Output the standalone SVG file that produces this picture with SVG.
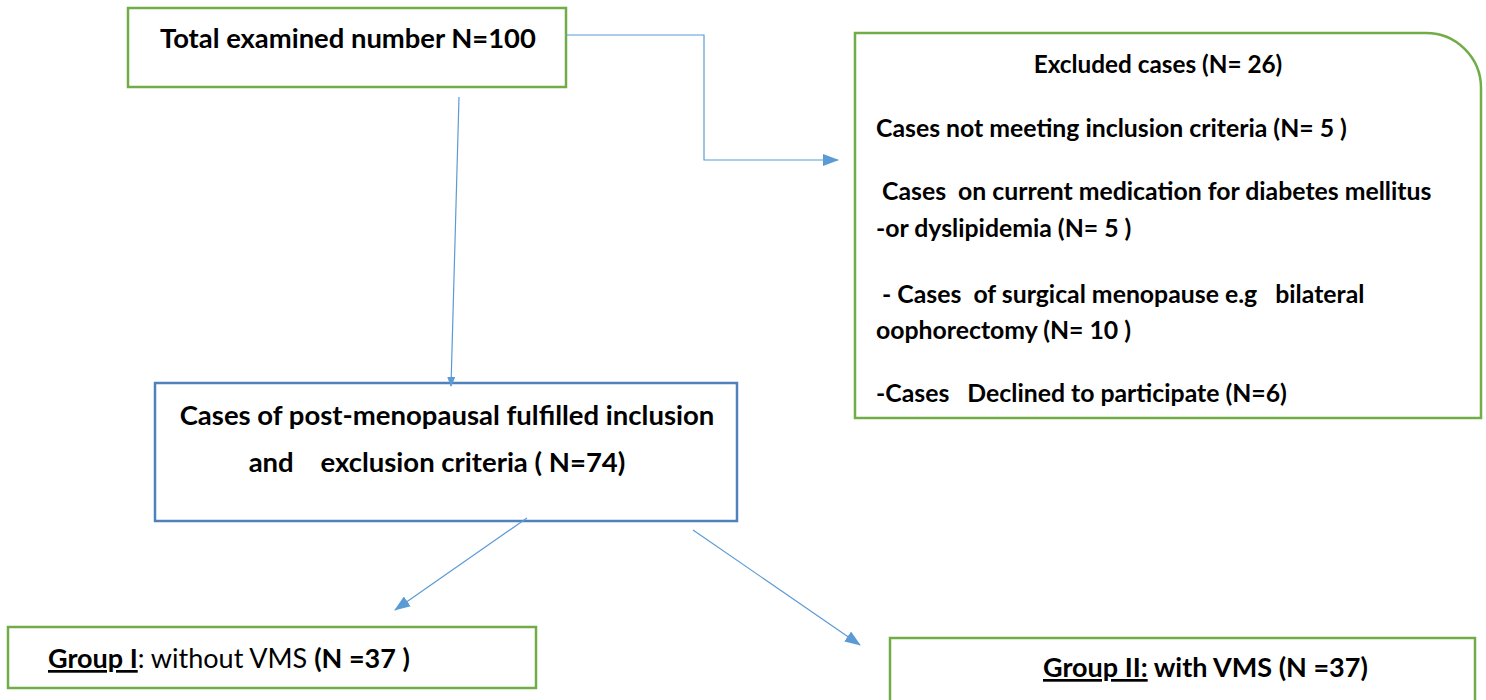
<svg xmlns="http://www.w3.org/2000/svg" width="1486" height="700" viewBox="0 0 1486 700">
<style>
text{font-family:Lato,"Open Sans","Liberation Sans",sans-serif;fill:#000;font-weight:bold}
.g{fill:#fff;stroke:#70AD47;stroke-width:2.5}
.b{fill:#fff;stroke:#4F81BD;stroke-width:2.5}
.c{fill:none;stroke:#5B9BD5;stroke-width:1.2}
.n{font-weight:normal}
.l{font-size:24.8px}
</style>
<defs>
<marker id="ah" markerWidth="10" markerHeight="8" refX="9" refY="4" orient="auto" markerUnits="userSpaceOnUse" viewBox="0 0 10 8">
<path d="M0,0 L10,4 L0,8 Z" fill="#5B9BD5"/>
</marker>
<marker id="ah2" markerWidth="16" markerHeight="12" refX="15" refY="6" orient="auto" markerUnits="userSpaceOnUse" viewBox="0 0 16 12">
<path d="M0,0 L16,6 L0,12 Z" fill="#5B9BD5"/>
</marker>
</defs>
<g id="n-total">
<rect class="g" x="128" y="8" width="438" height="79"/>
<text x="160" y="48" font-size="27.4">Total examined number N=100</text>
</g>
<g id="n-excluded">
<path class="g" d="M855,33 H1426 A55,55 0 0 1 1481,88 V418 H855 Z"/>
<text x="1158" y="73" font-size="24.3" text-anchor="middle">Excluded cases (N= 26)</text>
<text class="l" x="876" y="137">Cases not meeting inclusion criteria (N= 5 )</text>
<text class="l" x="876" y="200" xml:space="preserve"> Cases  on current medication for diabetes mellitus</text>
<text class="l" x="876" y="237">-or dyslipidemia (N= 5 )</text>
<text class="l" x="876" y="303" xml:space="preserve"> - Cases  of surgical menopause e.g   bilateral</text>
<text class="l" x="876" y="339">oophorectomy (N= 10 )</text>
<text class="l" x="876" y="402" xml:space="preserve">-Cases   Declined to participate (N=6)</text>
</g>
<g id="n-included">
<rect class="b" x="155" y="383" width="582" height="138"/>
<text x="447" y="425" font-size="27.5" text-anchor="middle">Cases of post-menopausal fulfilled inclusion</text>
<text x="437" y="472" font-size="27.5" text-anchor="middle" xml:space="preserve">and    exclusion criteria ( N=74)</text>
</g>
<g id="n-group1">
<rect class="g" x="8" y="627" width="528" height="61"/>
<text x="48" y="668" font-size="27"><tspan text-decoration="underline">Group I</tspan><tspan class="n">: without VMS </tspan>(N =37 )</text>
</g>
<g id="n-group2">
<rect class="g" x="890" y="638" width="585" height="70"/>
<text x="1043" y="677" font-size="27"><tspan text-decoration="underline">Group II:</tspan> with VMS (N =37)</text>
</g>
<g id="connectors">
<polyline class="c" points="566,35 704,35 704,160 838,160" marker-end="url(#ah2)"/>
<line class="c" x1="459" y1="97" x2="451" y2="386" marker-end="url(#ah)"/>
<line class="c" x1="527" y1="518" x2="395" y2="610" marker-end="url(#ah2)"/>
<line class="c" x1="693" y1="530" x2="860" y2="645" marker-end="url(#ah2)"/>
</g>
</svg>
